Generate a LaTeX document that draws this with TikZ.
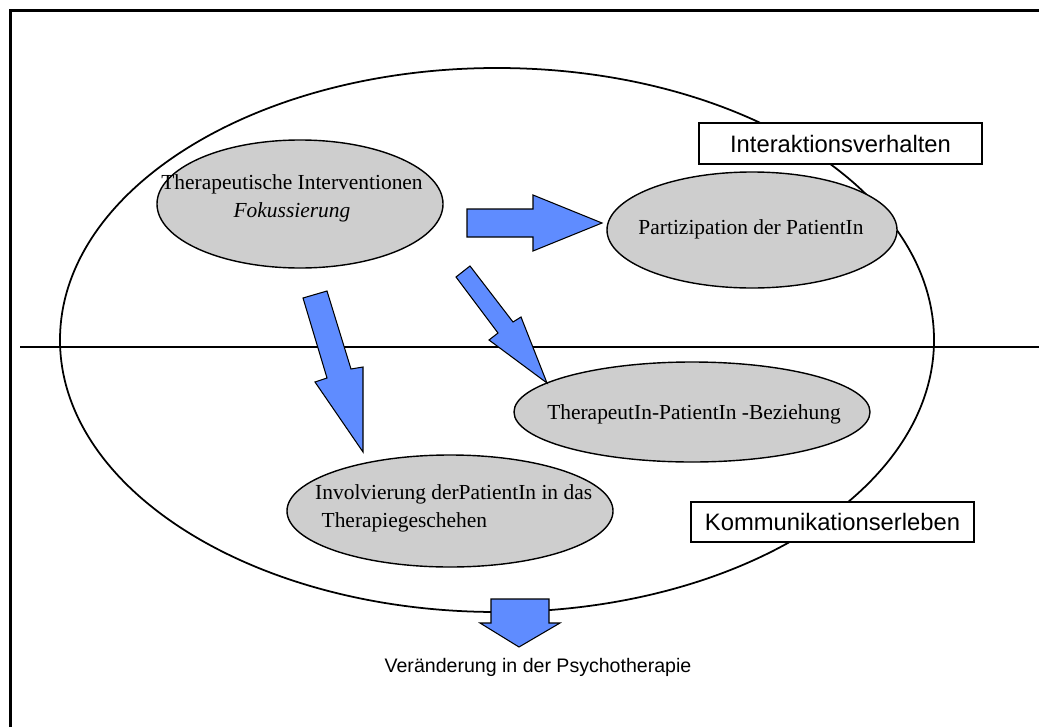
\documentclass[tikz,border=0pt]{standalone}
\usepackage{fontspec}
\setmainfont{Liberation Serif}
\newfontfamily\arialf{Liberation Sans}
\usetikzlibrary{shapes.geometric}
\definecolor{arrowblue}{RGB}{95,140,255}
\definecolor{ellgray}{RGB}{206,206,206}
\tikzset{
  bigell/.style={draw=black, line width=1.5pt},
  sell/.style={ellipse, draw=black, fill=ellgray, line width=1.2pt, inner sep=0pt},
  serif/.style={font=\fontsize{18.3}{24}\selectfont, inner sep=0pt},
  labelbox/.style={rectangle, draw=black, fill=white, line width=0.9pt, inner sep=0pt, font=\arialf\fontsize{20.3}{24}\selectfont},
  blockarrow/.style={draw=black, fill=arrowblue, line width=0.9pt, line join=miter},
  sep/.style={draw=black, line width=1.2pt},
  frame/.style={draw=black, line width=2.5pt}
}
\begin{document}
\begin{tikzpicture}[x=0.03cm, y=-0.03cm]
\useasboundingbox (0,0) rectangle (1039,727);
% frame
\draw[frame] (10.5,727) -- (10.5,10.3) -- (1039,10.3);
% big ellipse
\draw[bigell] (497,340) ellipse [x radius=437, y radius=272];
% separator line
\draw[sep] (20,347) -- (1039,347);
% small ellipses
\node[sell, minimum width=8.58cm, minimum height=3.84cm] (e1) at (300,204) {};
\node[sell, minimum width=8.70cm, minimum height=3.48cm] (e2) at (752,230) {};
\node[sell, minimum width=10.68cm, minimum height=3.00cm] (e3) at (692,412) {};
\node[sell, minimum width=9.78cm, minimum height=3.36cm] (e4) at (450,511) {};
% texts
\node[serif, align=center] (t1) at (292,198) {Therapeutische Interventionen\\\textit{Fokussierung}};
\node[serif] (t2) at (751,229) {Partizipation der PatientIn};
\node[serif] (t3) at (694,414) {TherapeutIn-PatientIn -Beziehung};
\node[serif, align=left, anchor=west] (t4) at (315,508) {Involvierung derPatientIn in das\\\hspace{0.3em}Therapiegeschehen};
% label boxes
\node[labelbox, minimum width=8.49cm, minimum height=1.23cm] (b1) at (840.5,143.5) {Interaktionsverhalten};
\node[labelbox, minimum width=8.49cm, minimum height=1.20cm] (b2) at (832.5,522) {Kommunikationserleben};
% block arrows
\draw[blockarrow] (467,209) -- (533,209) -- (533,195) -- (602,223) -- (533,251) -- (533,237) -- (467,237) -- cycle;
\draw[blockarrow] (303,298) -- (327,291) -- (351,369) -- (363,367) -- (363,452) -- (315,382) -- (327,378) -- cycle;
\draw[blockarrow] (456,277) -- (470,266) -- (513,322) -- (521,317) -- (547,383) -- (489,340) -- (498,333) -- cycle;
\draw[blockarrow] (491,599) -- (549,599) -- (549,623) -- (560,623) -- (519,647) -- (480,623) -- (491,623) -- cycle;
% result text
\node[font=\arialf\fontsize{16.7}{20}\selectfont, inner sep=0pt] (res) at (538,667) {Veränderung in der Psychotherapie};
\end{tikzpicture}
\end{document}
